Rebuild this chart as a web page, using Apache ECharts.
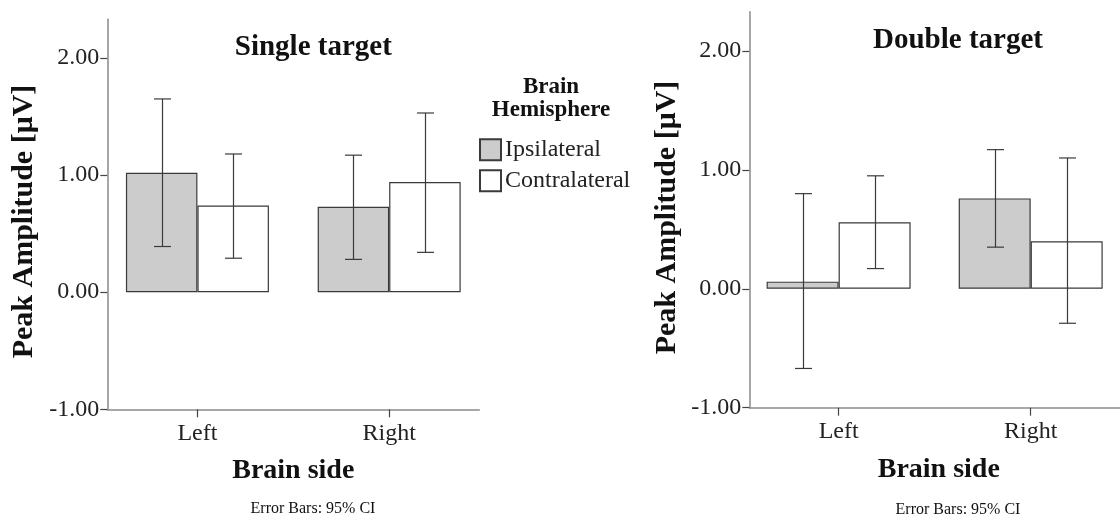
<!DOCTYPE html>
<html>
<head>
<meta charset="utf-8">
<script src="https://cdn.jsdelivr.net/npm/echarts@6/dist/echarts.min.js"></script>
<style>
  html, body { margin: 0; padding: 0; background: #fff; }
  #chart { width: 1120px; height: 519px; }
</style>
</head>
<body>
<div id="chart"></div>
<script>
// Brain side categories and tick values
const sides = ['Left', 'Right'];
const yTicks = [-1, 0, 1, 2];

// Single target: mean peak amplitude and 95% CI [low, high]
const singleIpsi = [1.02, 0.73];
const singleContra = [0.74, 0.94];
const singleIpsiCI = [[0.39, 1.65], [0.28, 1.17]];
const singleContraCI = [[0.29, 1.18], [0.34, 1.53]];

// Double target: mean peak amplitude and 95% CI [low, high]
const doubleIpsi = [0.06, 0.76];
const doubleContra = [0.56, 0.40];
const doubleIpsiCI = [[-0.67, 0.80], [0.35, 1.17]];
const doubleContraCI = [[0.17, 0.95], [-0.29, 1.10]];

const SERIF = '"Liberation Serif", "Times New Roman", serif';
const INK = '#222';
const EDGE = '#3a3a3a';
const IPSI_FILL = '#cccccc';
const CONTRA_FILL = '#ffffff';

function barData(values) {
  return values.map((v, i) => [i, v]);
}
function ciData(ci) {
  return ci.map((c, i) => [i, c[0], c[1]]);
}

// whisker drawer, shifted sideways to sit on the matching bar
function errorBars(shift) {
  const cap = 8.5;
  return function (params, api) {
    const i = api.value(0);
    const lo = api.coord([i, api.value(1)]);
    const hi = api.coord([i, api.value(2)]);
    const x = Math.round(lo[0] + shift) + 0.5;
    const style = { stroke: EDGE, lineWidth: 1.2 };
    return {
      type: 'group',
      children: [
        { type: 'line', shape: { x1: x, y1: lo[1], x2: x, y2: hi[1] }, style },
        { type: 'line', shape: { x1: x - cap, y1: hi[1], x2: x + cap, y2: hi[1] }, style },
        { type: 'line', shape: { x1: x - cap, y1: lo[1], x2: x + cap, y2: lo[1] }, style }
      ]
    };
  };
}

function xAxisFor(gridIndex, min, max) {
  return {
    type: 'value',
    gridIndex,
    min, max,
    position: 'bottom',
    axisLine: { show: true, onZero: false, lineStyle: { color: '#8a8a8a', width: 1.5 } },
    axisTick: { show: true, length: 8, customValues: [0, 1], lineStyle: { color: '#444', width: 1.2 } },
    axisLabel: {
      customValues: [0, 1],
      margin: 12,
      formatter: v => sides[Math.round(v)],
      fontFamily: SERIF, fontSize: 24, color: INK
    },
    splitLine: { show: false }
  };
}

function yAxisFor(gridIndex) {
  return {
    type: 'value',
    gridIndex,
    min: -1, max: 2.33, interval: 1,
    position: 'left',
    axisLine: { show: true, onZero: false, lineStyle: { color: '#8a8a8a', width: 1.5 } },
    axisTick: { show: true, length: 7, customValues: yTicks, lineStyle: { color: '#444', width: 1.2 } },
    axisLabel: {
      customValues: yTicks,
      margin: 8,
      formatter: v => v.toFixed(2),
      fontFamily: SERIF, fontSize: 24, color: INK
    },
    splitLine: { show: false }
  };
}

function barSeries(name, values, fill, axisIndex, width) {
  return {
    type: 'bar',
    name,
    xAxisIndex: axisIndex, yAxisIndex: axisIndex,
    data: barData(values),
    barWidth: width,
    barGap: '0%',
    itemStyle: { color: fill, borderColor: EDGE, borderWidth: 1.2 },
    emphasis: { disabled: true },
    z: 2
  };
}

function ciSeries(ci, axisIndex, shift) {
  return {
    type: 'custom',
    xAxisIndex: axisIndex, yAxisIndex: axisIndex,
    data: ciData(ci),
    encode: { x: 0, y: [1, 2] },
    renderItem: errorBars(shift),
    silent: true,
    z: 5
  };
}

function label(text, x, y, size, bold, extra) {
  return Object.assign({
    type: 'text',
    x, y,
    silent: true,
    style: {
      text,
      fill: '#111',
      font: (bold ? 'bold ' : '') + size + 'px ' + SERIF,
      textAlign: 'center',
      textVerticalAlign: 'middle'
    }
  }, extra || {});
}

const W1 = 71.5, W2 = 72;

const chart = echarts.init(document.getElementById('chart'), null, { renderer: 'canvas' });
chart.setOption({
  animation: false,
  backgroundColor: '#ffffff',
  grid: [
    { left: 107.3, top: 19.3, width: 372, height: 390 },
    { left: 749.3, top: 11.7, width: 377.7, height: 396 }
  ],
  xAxis: [xAxisFor(0, -0.47, 1.47), xAxisFor(1, -0.465, 1.465)],
  yAxis: [yAxisFor(0), yAxisFor(1)],
  legend: {
    orient: 'vertical',
    left: 474, top: 132.7,
    itemWidth: 21, itemHeight: 21, itemGap: 7,
    icon: 'rect',
    selectedMode: false,
    data: ['Ipsilateral', 'Contralateral'],
    textStyle: { fontFamily: SERIF, fontSize: 24, color: INK, padding: [0, 0, 0, -1] }
  },
  graphic: [
    label('Single target', 313.3, 47.5, 29, true),
    label('Double target', 958, 40.2, 29, true),
    label('Brain', 551, 86.7, 23, true),
    label('Hemisphere', 551, 109.7, 23, true),
    label('Peak Amplitude [μV]', 24.2, 221.5, 30, true, { rotation: Math.PI / 2 }),
    label('Peak Amplitude [μV]', 667.6, 217.5, 30, true, { rotation: Math.PI / 2 }),
    label('Brain side', 293.3, 470.5, 28, true),
    label('Brain side', 938.8, 469.5, 28, true),
    label('Error Bars: 95% CI', 313, 509, 16, false),
    label('Error Bars: 95% CI', 958, 509.6, 16, false)
  ],
  series: [
    barSeries('Ipsilateral', singleIpsi, IPSI_FILL, 0, W1),
    barSeries('Contralateral', singleContra, CONTRA_FILL, 0, W1),
    barSeries('Ipsilateral', doubleIpsi, IPSI_FILL, 1, W2),
    barSeries('Contralateral', doubleContra, CONTRA_FILL, 1, W2),
    ciSeries(singleIpsiCI, 0, -W1 / 2),
    ciSeries(singleContraCI, 0, W1 / 2),
    ciSeries(doubleIpsiCI, 1, -W2 / 2),
    ciSeries(doubleContraCI, 1, W2 / 2)
  ]
});
</script>
</body>
</html>
